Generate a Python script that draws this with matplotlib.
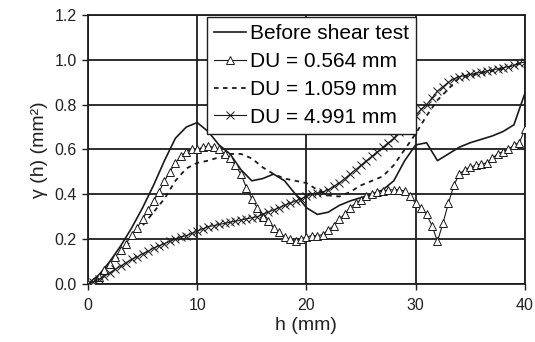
import numpy as np
import matplotlib
matplotlib.use("Agg")
import matplotlib.pyplot as plt
from matplotlib.ticker import FormatStrFormatter

plt.rcParams['font.family'] = ['Liberation Sans', 'DejaVu Sans']

# lag distances
h_line = np.arange(0, 41, 1.0)
h_mark = np.arange(0, 40.5, 0.5)

before_shear = [0, 0.04, 0.10, 0.17, 0.25, 0.34, 0.44, 0.55, 0.65, 0.70,
                0.72, 0.68, 0.62, 0.58, 0.51, 0.46, 0.47, 0.49, 0.46, 0.40,
                0.34, 0.31, 0.32, 0.35, 0.37, 0.385, 0.40, 0.42, 0.46, 0.55,
                0.62, 0.63, 0.55, 0.58, 0.61, 0.63, 0.645, 0.66, 0.68, 0.71,
                0.85]

du_0564 = [0, 0.01, 0.03, 0.06, 0.09, 0.12, 0.15, 0.18, 0.22, 0.25,
           0.29, 0.33, 0.37, 0.41, 0.46, 0.50, 0.54, 0.57, 0.59, 0.60,
           0.60, 0.61, 0.615, 0.61, 0.60, 0.58, 0.56, 0.53, 0.49, 0.43,
           0.38, 0.34, 0.30, 0.28, 0.25, 0.23, 0.21, 0.20, 0.19, 0.20,
           0.21, 0.215, 0.215, 0.22, 0.24, 0.26, 0.29, 0.31, 0.34, 0.36,
           0.375, 0.39, 0.40, 0.41, 0.415, 0.42, 0.42, 0.42, 0.415, 0.39,
           0.36, 0.34, 0.31, 0.26, 0.19, 0.27, 0.36, 0.44, 0.49, 0.51,
           0.52, 0.53, 0.535, 0.54, 0.56, 0.58, 0.59, 0.60, 0.62, 0.63,
           0.69]

du_1059 = [0, 0.03, 0.07, 0.13, 0.20, 0.26, 0.32, 0.38, 0.46, 0.515,
           0.54, 0.55, 0.565, 0.58, 0.58, 0.56, 0.52, 0.49, 0.47, 0.46,
           0.45, 0.42, 0.395, 0.39, 0.41, 0.44, 0.46, 0.48, 0.53, 0.60,
           0.67, 0.75, 0.82, 0.87, 0.92, 0.93, 0.94, 0.95, 0.96, 0.975,
           0.99]

du_4991 = [0, 0.01, 0.02, 0.035, 0.05, 0.065, 0.08, 0.095, 0.11, 0.12,
           0.135, 0.145, 0.16, 0.17, 0.18, 0.19, 0.20, 0.21, 0.215, 0.225,
           0.235, 0.245, 0.255, 0.26, 0.265, 0.27, 0.275, 0.28, 0.285, 0.29,
           0.295, 0.30, 0.31, 0.32, 0.33, 0.34, 0.35, 0.36, 0.37, 0.38,
           0.39, 0.40, 0.405, 0.41, 0.42, 0.435, 0.45, 0.47, 0.49, 0.51,
           0.53, 0.55, 0.57, 0.59, 0.61, 0.63, 0.65, 0.68, 0.70, 0.73,
           0.75, 0.78, 0.80, 0.83, 0.86, 0.88, 0.90, 0.915, 0.925, 0.93,
           0.935, 0.94, 0.945, 0.95, 0.955, 0.96, 0.965, 0.97, 0.975, 0.985,
           0.99]

labels = ["Before shear test", "DU = 0.564 mm", "DU = 1.059 mm", "DU = 4.991 mm"]
x_ticks = [0, 10, 20, 30, 40]
y_ticks = [0.0, 0.2, 0.4, 0.6, 0.8, 1.0, 1.2]

fig = plt.figure(figsize=(5.35, 3.42), dpi=100)
ax = fig.add_axes([0.1645, 0.170, 0.8165, 0.786])

ink = '#1a1a1a'
ax.plot(h_line, before_shear, color=ink, lw=1.2, label=labels[0], zorder=4)
ax.plot(h_mark, du_0564, color=ink, lw=0.8, marker='^', ms=5.5,
        mfc='white', mec=ink, mew=0.7, label=labels[1], zorder=5)
ax.plot(h_line, du_1059, color=ink, lw=1.3, ls=(0, (2.5, 2.5)),
        label=labels[2], zorder=4)
ax.plot(h_mark, du_4991, color=ink, lw=0.8, marker='x', ms=5.5,
        mew=0.7, label=labels[3], zorder=5)

ax.set_xlim(0, 40)
ax.set_ylim(0, 1.2)
ax.set_xticks(x_ticks)
ax.set_yticks(y_ticks)
ax.yaxis.set_major_formatter(FormatStrFormatter('%.1f'))
ax.grid(True, color='#1e1e1e', lw=1.3)
ax.set_axisbelow(True)
for s in ax.spines.values():
    s.set_color('#1e1e1e')
    s.set_linewidth(1.3)
ax.tick_params(axis='both', direction='out', length=4, width=1.0,
               color='#1e1e1e', labelsize=11.5, labelcolor='#222222', pad=4)
ax.tick_params(axis='x', pad=6)

ax.set_xlabel('h (mm)', fontsize=14, color='#222222', labelpad=3)
ax.set_ylabel('γ (h) (mm²)', fontsize=14, color='#222222', labelpad=5)

leg = ax.legend(loc='upper left', bbox_to_anchor=(207 / 535, 1 - 17 / 342),
                bbox_transform=fig.transFigure, fontsize=15, frameon=True,
                fancybox=False, edgecolor='#1e1e1e', framealpha=1,
                handlelength=1.5, handletextpad=0.2, borderpad=0.35,
                labelspacing=0.42, borderaxespad=0)
leg.get_frame().set_linewidth(1.0)
leg.set_zorder(10)

fig.savefig('out.png', dpi=100)
